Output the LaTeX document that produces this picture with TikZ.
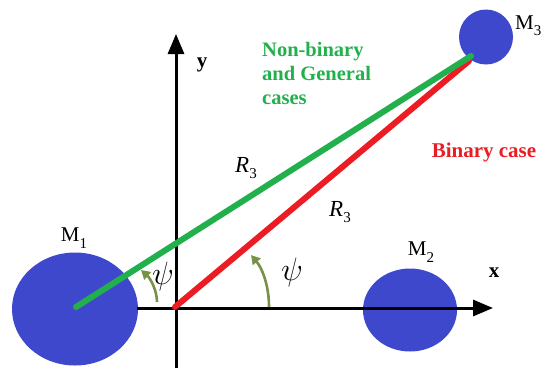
\documentclass[tikz,border=0pt]{standalone}
\usepackage{fontspec}
\setmainfont{Liberation Serif}
\usetikzlibrary{arrows.meta,shapes.geometric}
\definecolor{massblue}{RGB}{62,72,204}
\definecolor{lgreen}{RGB}{34,176,76}
\definecolor{lred}{RGB}{236,28,36}
\definecolor{olive}{RGB}{118,146,72}
\newcommand{\msub}[1]{\raisebox{-0.3em}{\fontsize{15}{15}\selectfont #1}}
\newcommand{\bigpsi}{\scalebox{1.3}{$\psi$}}
\begin{document}
\begin{tikzpicture}[x=1pt,y=-1pt,
  mass/.style={ellipse,fill=massblue,inner sep=0pt},
  axis/.style={line width=3pt,-{Triangle[length=20pt,width=16pt]}},
  arc/.style={olive,line width=2.6pt,-{Triangle[length=9pt,width=10pt]}},
  lbl/.style={inner sep=0pt,font=\fontsize{21}{22}\selectfont},
  gtext/.style={inner sep=0pt,font=\bfseries\fontsize{20.5}{24}\selectfont,text=lgreen,align=left},
  rtext/.style={inner sep=0pt,font=\bfseries\fontsize{21}{22}\selectfont,text=lred},
  rlab/.style={inner sep=0pt,font=\fontsize{23}{24}\selectfont},
  psil/.style={inner sep=0pt,font=\fontsize{24}{24}\selectfont}]
\useasboundingbox (0,0) rectangle (546,368);
% axes
\coordinate (xs) at (137,308);
\coordinate (xe) at (493,308);
\coordinate (ys) at (176,368);
\coordinate (ye) at (176,34);
% masses
\node[mass,minimum width=126pt,minimum height=113pt] (m1) at (75,309) {};
\node[mass,minimum width=94pt,minimum height=83pt] (m2) at (410,310) {};
\node[mass,minimum width=54pt,minimum height=55pt] (m3) at (486,37) {};
\draw[axis] (xs) -- (xe);
\draw[axis] (ys) -- (ye);
% lines
\coordinate (g1) at (76,307);
\coordinate (g2) at (471,56);
\coordinate (r1) at (175,307);
\coordinate (r2) at (469,61);
\draw[lred,line width=6pt,line cap=round] (r1) -- (r2);
\draw[lgreen,line width=6pt,line cap=round] (g1) -- (g2);
% angle arrows
\coordinate (a1s) at (157,302);
\coordinate (a1e) at (141,270);
\coordinate (a2s) at (269,307);
\coordinate (a2e) at (251,255);
\draw[arc] (a1s) .. controls (157,290) and (150,278) .. (a1e);
\draw[arc] (a2s) .. controls (269,285) and (262,268) .. (a2e);
% labels
\node[lbl] (l1) at (74,238) {M\msub{1}};
\node[lbl] (l2) at (421,252) {M\msub{2}};
\node[lbl,anchor=west] (l3) at (515,26) {M\msub{3}};
\node[inner sep=0pt,font=\bfseries\fontsize{21}{22}\selectfont] (ly) at (202,65) {y};
\node[inner sep=0pt,font=\bfseries\fontsize{21}{22}\selectfont] (lx) at (494,273) {x};
\node[gtext,anchor=north west] (gt) at (262,42) {Non-binary\\and General\\cases};
\node[rtext] (rt) at (484,152) {Binary case};
\node[rlab] (r3a) at (246,168) {\itshape R\msub{\upshape 3}};
\node[rlab] (r3b) at (340,212) {\itshape R\msub{\upshape 3}};
\node[psil] (p1) at (163,276) {\bigpsi};
\node[psil] (p2) at (292,272) {\bigpsi};
\end{tikzpicture}
\end{document}
